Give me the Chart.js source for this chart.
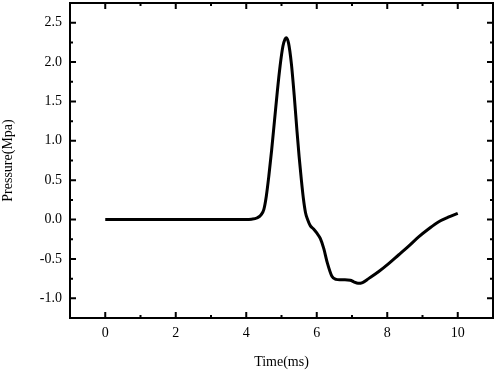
<!DOCTYPE html>
<html>
<head>
<meta charset="utf-8">
<script src="https://cdn.jsdelivr.net/npm/chart.js@4.4.0/dist/chart.umd.min.js"></script>
<style>
  html, body { margin: 0; padding: 0; background: #fff; }
  #wrap { width: 498px; height: 371px; }
</style>
</head>
<body>
<div id="wrap"><canvas id="pressure-chart"></canvas></div>
<script>
// values
const timeMs = [0, 1, 2, 3, 4, 4.15, 4.3, 4.42, 4.5, 4.57, 4.64, 4.72, 4.8, 4.88, 4.96, 5.04, 5.1, 5.14, 5.2, 5.28, 5.36, 5.44, 5.5, 5.56, 5.62, 5.68, 5.74, 5.82, 5.91, 6.0, 6.1, 6.2, 6.3, 6.43, 6.55, 6.65, 6.8, 6.95, 7.05, 7.17, 7.3, 7.47, 7.76, 8.04, 8.32, 8.6, 8.89, 9.17, 9.45, 9.73, 10.0];
const pressure = [0, 0, 0, 0, 0, 0.005, 0.02, 0.06, 0.13, 0.3, 0.55, 0.88, 1.25, 1.62, 1.95, 2.2, 2.29, 2.31, 2.24, 1.98, 1.58, 1.12, 0.8, 0.52, 0.27, 0.09, 0.0, -0.08, -0.12, -0.17, -0.24, -0.37, -0.55, -0.72, -0.76, -0.765, -0.765, -0.77, -0.79, -0.81, -0.8, -0.75, -0.66, -0.56, -0.45, -0.34, -0.22, -0.12, -0.03, 0.03, 0.08];

const xTicks = [0, 2, 4, 6, 8, 10];
const xMinor = [-1, 1, 3, 5, 7, 9, 11];
const yTicks = [-1.0, -0.5, 0.0, 0.5, 1.0, 1.5, 2.0, 2.5];
const yMinor = [-0.75, -0.25, 0.25, 0.75, 1.25, 1.75, 2.25, 2.75];

const font = { family: "'Liberation Serif', 'Times New Roman', serif", size: 14 };

// frame + inward ticks on all four sides
const frameTicks = {
  id: "frameTicks",
  afterDraw(chart) {
    const { ctx, chartArea: a, scales } = chart;
    ctx.save();
    ctx.strokeStyle = "#000";
    ctx.lineWidth = 2;
    ctx.strokeRect(a.left, a.top, a.right - a.left, a.bottom - a.top);
    const tick = (list, len) => {
      list.forEach((v) => {
        const px = scales.x.getPixelForValue(v);
        if (px < a.left + 1 || px > a.right - 1) return;
        ctx.beginPath();
        ctx.moveTo(px, a.bottom); ctx.lineTo(px, a.bottom - len);
        ctx.moveTo(px, a.top); ctx.lineTo(px, a.top + len);
        ctx.stroke();
      });
    };
    const ytick = (list, len) => {
      list.forEach((v) => {
        const py = scales.y.getPixelForValue(v);
        if (py < a.top + 1 || py > a.bottom - 1) return;
        ctx.beginPath();
        ctx.moveTo(a.left, py); ctx.lineTo(a.left + len, py);
        ctx.moveTo(a.right, py); ctx.lineTo(a.right - len, py);
        ctx.stroke();
      });
    };
    tick(xTicks, 6);
    tick(xMinor, 3);
    ytick(yTicks, 6);
    ytick(yMinor, 3);
    ctx.restore();
  },
};

new Chart(document.getElementById("pressure-chart"), {
  type: "line",
  data: {
    datasets: [
      {
        label: "Pressure",
        data: timeMs.map((t, i) => ({ x: t, y: pressure[i] })),
        borderColor: "#000",
        borderWidth: 3,
        pointRadius: 0,
        cubicInterpolationMode: "monotone",
        fill: false,
      },
    ],
  },
  options: {
    responsive: true,
    maintainAspectRatio: false,
    animation: false,
    layout: { padding: { top: 3, right: 5, left: 0, bottom: 0 } },
    scales: {
      x: {
        type: "linear",
        min: -1,
        max: 11,
        afterBuildTicks: (s) => { s.ticks = xTicks.map((v) => ({ value: v })); },
        afterFit: (s) => {
          s.height = 53;
          s.paddingLeft = 0;
          s.paddingRight = 0;
        },
        grid: { display: false, drawTicks: false },
        border: { display: false },
        ticks: { color: "#000", font, padding: 7 },
        title: { display: true, text: "Time(ms)", color: "#000", font, padding: { top: 6, bottom: 0 } },
      },
      y: {
        min: -1.25,
        max: 2.75,
        afterBuildTicks: (s) => { s.ticks = yTicks.map((v) => ({ value: v })); },
        afterFit: (s) => {
          s.width = 70;
          s.paddingTop = 0;
          s.paddingBottom = 0;
        },
        grid: { display: false, drawTicks: false },
        border: { display: false },
        ticks: { color: "#000", font, padding: 8, callback: (v) => Number(v).toFixed(1) },
        title: { display: true, text: "Pressure(Mpa)", color: "#000", font, padding: { top: 0, bottom: 0 } },
      },
    },
    plugins: {
      legend: { display: false },
      tooltip: { enabled: false },
    },
  },
  plugins: [frameTicks],
});
</script>
</body>
</html>
